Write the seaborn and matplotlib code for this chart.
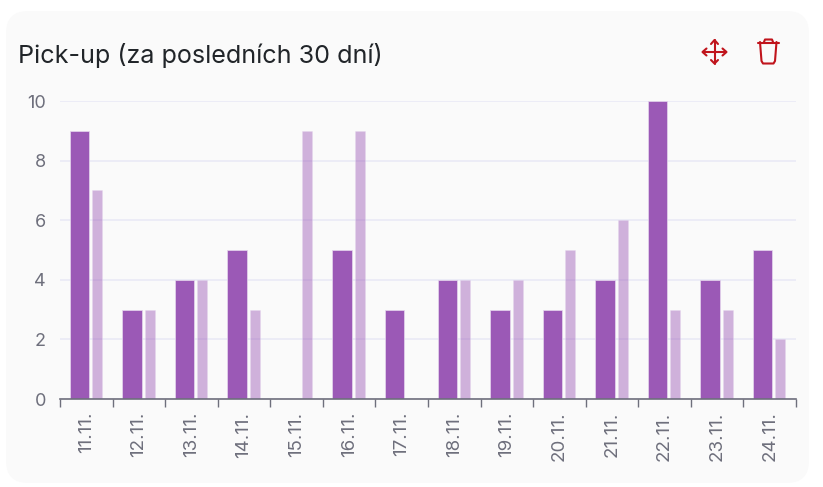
import numpy as np
import pandas as pd
import matplotlib
matplotlib.use("Agg")
import matplotlib.pyplot as plt
from matplotlib.lines import Line2D
from matplotlib.patches import FancyBboxPatch
from matplotlib.transforms import IdentityTransform
import seaborn as sns

# values
days = ["11.11.", "12.11.", "13.11.", "14.11.", "15.11.", "16.11.", "17.11.",
        "18.11.", "19.11.", "20.11.", "21.11.", "22.11.", "23.11.", "24.11."]
dark_values = [9, 3, 4, 5, 0, 5, 3, 4, 3, 3, 4, 10, 4, 5]
light_values = [7, 3, 4, 3, 9, 9, 0, 4, 4, 5, 6, 3, 3, 2]
y_ticks = [0, 2, 4, 6, 8, 10]
title = "Pick-up (za posledních 30 dní)"

W, H = 823, 487
PURPLE = "#9b59b6"
GREY = "#6e6f7c"
RED = "#c0141c"

sns.set_theme(style="white")
plt.rcParams["font.family"] = ["Inter", "DejaVu Sans"]

fig = plt.figure(figsize=(W / 100, H / 100), dpi=100, facecolor="white")


def fx(x):
    return x / W


def fy(y):
    return 1 - y / H


# card behind the chart, in pixels
fig.add_artist(FancyBboxPatch((6, H - 483), 803, 472,
                              boxstyle="round,pad=0,rounding_size=22",
                              transform=IdentityTransform(),
                              facecolor="#fafafa", edgecolor="none", zorder=-1))

ax = fig.add_axes([fx(60), fy(399), 736 / W, 298 / H])
ax.patch.set_alpha(0)

df = pd.DataFrame({"pos": np.arange(len(days), dtype=float),
                   "dark": dark_values, "light": light_values})

sns.barplot(x=df["pos"] + 0.367, y=df["dark"], ax=ax, native_scale=True, orient="x",
            width=0.37, color=PURPLE, saturation=1, errorbar=None,
            edgecolor="#e6d8ee", linewidth=0.5, zorder=3)
sns.barplot(x=df["pos"] + 0.704, y=df["light"], ax=ax, native_scale=True, orient="x",
            width=0.19, color=PURPLE, saturation=1, errorbar=None, alpha=0.45,
            edgecolor="#e6d8ee", linewidth=0.5, zorder=3)

ax.set_xlim(0, len(days))
ax.set_ylim(0, 10)
ax.set_xlabel("")
ax.set_ylabel("")

ax.set_yticks(y_ticks)
ax.tick_params(axis="y", length=0, pad=10, labelsize=13, labelcolor=GREY)
ax.yaxis.grid(True, color="#e8e8f5", linewidth=1.1, zorder=0)
ax.set_axisbelow(True)

# ticks sit on the category edges, labels in the middle
ax.set_xticks(np.arange(len(days) + 1))
ax.set_xticklabels([])
ax.set_xticks(np.arange(len(days)) + 0.5, minor=True)
ax.set_xticklabels(days, minor=True, rotation=90, fontsize=13.5, color=GREY)
ax.tick_params(axis="x", which="major", length=6, width=1, color=GREY, bottom=True)
ax.tick_params(axis="x", which="minor", length=0, pad=9, bottom=False)

for side in ["top", "right", "left"]:
    ax.spines[side].set_visible(False)
ax.spines["bottom"].set_color(GREY)
ax.spines["bottom"].set_linewidth(1.2)
ax.spines["bottom"].set_zorder(5)

fig.text(fx(18.5), fy(52.5), title, fontsize=18.1, color="#212529", ha="left", va="center_baseline")


def icon_line(xs, ys, lw=1.5):
    fig.add_artist(Line2D([fx(x) for x in xs], [fy(y) for y in ys], color=RED, lw=lw,
                          solid_capstyle="round", solid_joinstyle="round"))


# move icon
icon_line([703, 726], [52, 52])
icon_line([714.5, 714.5], [40, 63.5])
icon_line([711, 714.5, 718], [44, 40, 44])
icon_line([711, 714.5, 718], [60, 63.5, 60])
icon_line([706.5, 702.5, 706.5], [48.5, 52, 55.5])
icon_line([722.5, 726.5, 722.5], [48.5, 52, 55.5])

# bin icon
icon_line([757.5, 778.5], [42.5, 42.5])
icon_line([764, 765, 772, 773], [42, 39.5, 39.5, 42])
icon_line([760, 761.5, 763, 773.5, 775, 776.5], [42, 61, 63.5, 63.5, 61, 42])

fig.savefig("out.png", dpi=100, facecolor="white")
